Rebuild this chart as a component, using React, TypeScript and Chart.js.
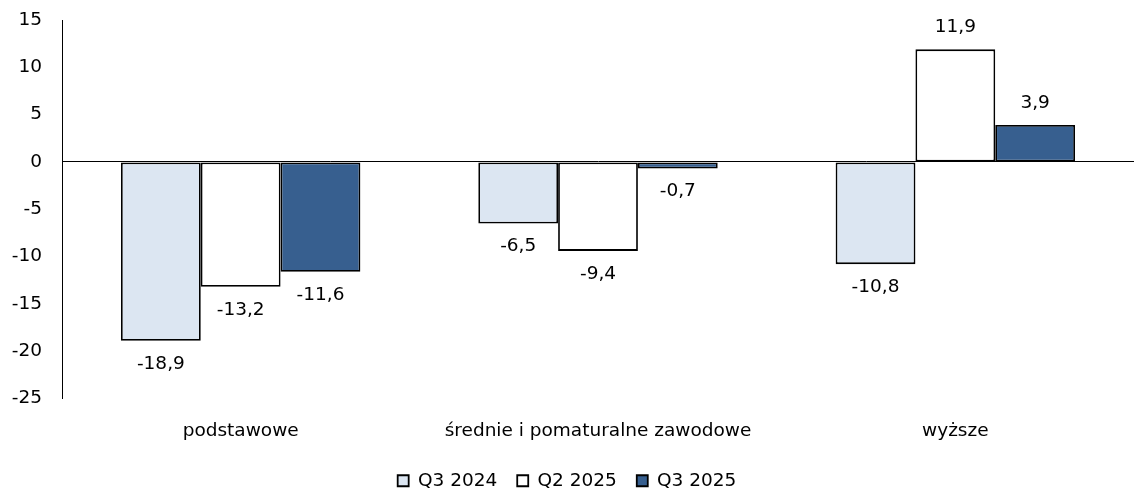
import React, { useEffect, useRef } from "react";
import { Chart, registerables } from "chart.js";

Chart.register(...registerables);

const categories = ["podstawowe", "średnie i pomaturalne zawodowe", "wyższe"];
const seriesNames = ["Q3 2024", "Q2 2025", "Q3 2025"];
const q3_2024 = [-18.9, -6.5, -10.8];
const q2_2025 = [-13.2, -9.4, 11.9];
const q3_2025 = [-11.6, -0.7, 3.9];
const seriesColors = ["#dce6f2", "#ffffff", "#375f8f"];
const yMin = -25;
const yMax = 15;
const yStep = 5;

const FONT = "'DejaVu Sans', Tahoma, sans-serif";
const FS = 18.5;

const labelPlugin = {
  id: "valueLabels",
  afterDatasetsDraw(chart: any) {
    const ctx = chart.ctx;
    ctx.save();
    ctx.font = `${FS}px ${FONT}`;
    ctx.fillStyle = "#000";
    ctx.textAlign = "center";
    ctx.textBaseline = "middle";
    chart.data.datasets.forEach((ds: any, i: number) => {
      const meta = chart.getDatasetMeta(i);
      meta.data.forEach((el: any, j: number) => {
        const v = ds.data[j];
        const txt = v.toFixed(1).replace(".", ",");
        const y = v >= 0 ? el.y - 22 : el.y + 23;
        ctx.fillText(txt, el.x, y);
      });
    });
    ctx.restore();
  },
};

export default function App() {
  const ref = useRef<HTMLCanvasElement>(null);
  useEffect(() => {
    document.body.style.margin = "0";
    const chart = new Chart(ref.current!, {
      type: "bar",
      data: {
        labels: categories,
        datasets: [q3_2024, q2_2025, q3_2025].map((d, i) => ({
          label: seriesNames[i],
          data: d,
          backgroundColor: seriesColors[i],
          borderColor: "#000",
          borderWidth: 1.8,
          borderSkipped: false,
          categoryPercentage: 0.67,
          barPercentage: 1,
        })),
      },
      options: {
        animation: false,
        responsive: false,
        layout: { padding: { top: 20, right: 1, left: 0, bottom: -5 } },
        plugins: {
          tooltip: { enabled: false },
          legend: {
            position: "bottom",
            labels: {
              font: { family: FONT, size: FS },
              color: "#000",
              boxWidth: 11,
              boxHeight: 11,
              padding: 20,
            },
          },
        },
        scales: {
          x: {
            grid: { display: false, drawTicks: false },
            border: { display: false },
            ticks: { font: { family: FONT, size: FS }, color: "#000", padding: 22 },
            afterFit: (s: any) => {
              s.height = 53;
            },
          },
          y: {
            min: yMin,
            max: yMax,
            ticks: {
              stepSize: yStep,
              font: { family: FONT, size: FS },
              color: "#000",
              padding: 0,
            },
            grid: {
              drawTicks: true,
              tickLength: 20,
              tickColor: "rgba(0,0,0,0)",
              color: (c: any) => (c.tick && c.tick.value === 0 ? "#000" : "rgba(0,0,0,0)"),
              lineWidth: 1,
            },
            border: { display: true, color: "#000", width: 1 },
            afterFit: (s: any) => {
              s.width = 62;
            },
          },
        },
      },
      plugins: [labelPlugin],
    });
    return () => chart.destroy();
  }, []);
  return (
    <div style={{ width: 1135, height: 495 }}>
      <canvas ref={ref} width={1135} height={495} />
    </div>
  );
}
